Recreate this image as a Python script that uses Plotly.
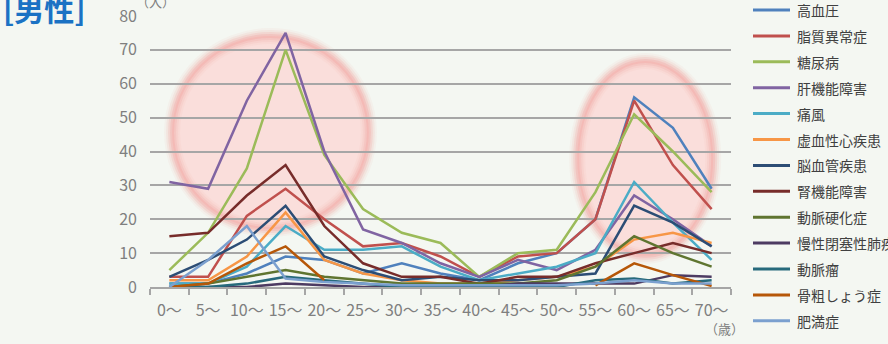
import plotly.graph_objects as go

# Age bands (5-year groups) on the horizontal axis
age_labels = ["0～", "5～", "10～", "15～", "20～", "25～", "30～", "35～",
              "40～", "45～", "50～", "55～", "60～", "65～", "70～"]

# Number of people per condition and age band
hypertension = [1, 1, 4, 9, 8, 4, 7, 4, 2, 7, 10, 20, 56, 47, 29]
dyslipidemia = [3, 3, 21, 29, 20, 12, 13, 9, 3, 9, 10, 20, 55, 36, 23]
diabetes = [5, 16, 35, 70, 39, 23, 16, 13, 3, 10, 11, 28, 51, 40, 28]
liver = [31, 29, 55, 75, 40, 17, 13, 7, 3, 8, 5, 11, 27, 20, 12]
gout = [1, 1, 6, 18, 11, 11, 12, 6, 2, 4, 6, 10, 31, 19, 8]
ischemic_heart = [2, 2, 9, 22, 8, 4, 2, 1, 1, 2, 3, 6, 14, 16, 13]
cerebrovascular = [3, 8, 14, 24, 9, 5, 2, 3, 2, 2, 3, 4, 24, 19, 12]
kidney = [15, 16, 27, 36, 18, 7, 3, 3, 1, 3, 3, 7, 10, 13, 10]
arteriosclerosis = [0, 1, 3, 5, 3, 2, 1, 1, 1, 1, 2, 6, 15, 10, 6]
copd = [0, 0, 0, 1, 0.5, 0, 0, 0, 0, 1, 1, 1, 1, 3.5, 3]
aneurysm = [0, 0, 1, 3, 2, 1, 0, 0, 0, 0, 0, 2, 2.5, 1, 2]
osteoporosis = [0, 1, 7, 12, 2, None, None, None, None, None, None, 0.5, 7, 3.5, 0.3]
obesity = [0, 8, 18, 2.5, 1.5, 1, 0.5, 0.5, 0.5, 0.5, 0.5, 1, 2, 1, 1]

series_names = ["高血圧", "脂質異常症", "糖尿病", "肝機能障害", "痛風", "虚血性心疾患",
                "脳血管疾患", "腎機能障害", "動脈硬化症", "慢性閉塞性肺疾患", "動脈瘤",
                "骨粗しょう症", "肥満症"]
series_values = [hypertension, dyslipidemia, diabetes, liver, gout, ischemic_heart,
                 cerebrovascular, kidney, arteriosclerosis, copd, aneurysm,
                 osteoporosis, obesity]
series_colors = ["#4F81BD", "#C0504D", "#9BBB59", "#8064A2", "#4BACC6", "#F79646",
                 "#2C4D75", "#772C2A", "#5F7530", "#4D3B62", "#276A7C",
                 "#B65708", "#7BA0CF"]

# Plot-area geometry in pixels
W, H = 888, 344
ML, MR, MT, MB = 150, 157, 16, 57
PW, PH = W - ML - MR, H - MT - MB


def px_x(p):
    return (p - ML) / PW


def px_y(p):
    return (H - MB - p) / PH


GREY = "#A6A6A6"
TEXT_GREY = "#7F7F7F"
FONT = "Noto Sans CJK JP"

fig = go.Figure()

x_idx = list(range(len(age_labels)))
for name, vals, color in zip(series_names, series_values, series_colors):
    fig.add_trace(go.Scatter(
        x=x_idx, y=vals, mode="lines", name=name,
        line=dict(color=color, width=2.5),
        showlegend=False, cliponaxis=False, connectgaps=False,
    ))

# Soft highlighted regions behind the two peaks
shapes = []
for (x0, x1, y0, y1) in [(0.07, 5.15, 17.1, 74.1), (10.53, 14.04, 9.2, 66.7)]:
    shapes.append(dict(type="circle", xref="x", yref="y", x0=x0, x1=x1, y0=y0, y1=y1,
                       layer="below", fillcolor="rgba(251,218,216,0.9)",
                       line=dict(width=0)))
    for w, a in [(16, 0.08), (12, 0.14), (8, 0.22), (4, 0.3)]:
        shapes.append(dict(type="circle", xref="x", yref="y", x0=x0, x1=x1, y0=y0, y1=y1,
                           layer="below", fillcolor="rgba(0,0,0,0)",
                           line=dict(width=w, color=f"rgba(243,160,154,{a})")))

annotations = []

# Legend drawn as line keys with labels
for i, (name, color) in enumerate(zip(series_names, series_colors)):
    yp = 10 + 25.9 * i
    shapes.append(dict(type="line", xref="paper", yref="paper",
                       x0=px_x(753), x1=px_x(790), y0=px_y(yp), y1=px_y(yp),
                       line=dict(color=color, width=3)))
    annotations.append(dict(xref="paper", yref="paper", x=px_x(795), y=px_y(yp),
                            xanchor="left", yanchor="middle", text=name, showarrow=False,
                            font=dict(family=FONT, size=14, color="#404040")))

# Title and unit labels
annotations.append(dict(xref="paper", yref="paper", x=px_x(1), y=px_y(8),
                        xanchor="left", yanchor="middle", text="<b>[男性]</b>",
                        showarrow=False, font=dict(family=FONT, size=30, color="#1B72C4")))
annotations.append(dict(xref="paper", yref="paper", x=px_x(155), y=px_y(1),
                        xanchor="center", yanchor="middle", text="（人）",
                        showarrow=False, font=dict(family=FONT, size=13, color=TEXT_GREY)))
annotations.append(dict(xref="paper", yref="paper", x=px_x(724), y=px_y(328),
                        xanchor="center", yanchor="middle", text="（歳）",
                        showarrow=False, font=dict(family=FONT, size=13, color=TEXT_GREY)))

fig.update_layout(
    width=W, height=H, autosize=False,
    margin=dict(l=ML, r=MR, t=MT, b=MB, autoexpand=False),
    paper_bgcolor="#F4F7F2", plot_bgcolor="rgba(0,0,0,0)",
    shapes=shapes, annotations=annotations,
    font=dict(family=FONT, color=TEXT_GREY),
    showlegend=False,
)

fig.update_xaxes(
    range=[-0.5, len(age_labels) - 0.5],
    tickmode="array", tickvals=x_idx, ticktext=age_labels, ticks="",
    showgrid=False, zeroline=False,
    showline=True, linecolor=GREY, linewidth=1.5,
    tickfont=dict(family=FONT, size=16, color=TEXT_GREY),
    ticklabelstandoff=8,
    minor=dict(tickmode="array", tickvals=[i - 0.5 for i in range(len(age_labels) + 1)],
               ticks="outside", ticklen=6, tickwidth=1.5, tickcolor=GREY, showgrid=False),
)
fig.update_yaxes(
    range=[0, 80], tickmode="linear", tick0=0, dtick=10, ticks="",
    showgrid=True, gridcolor=GREY, gridwidth=1.5,
    zeroline=False, showline=False,
    tickfont=dict(family=FONT, size=16, color=TEXT_GREY),
    ticklabelstandoff=12,
)

fig.write_html("out.html")
